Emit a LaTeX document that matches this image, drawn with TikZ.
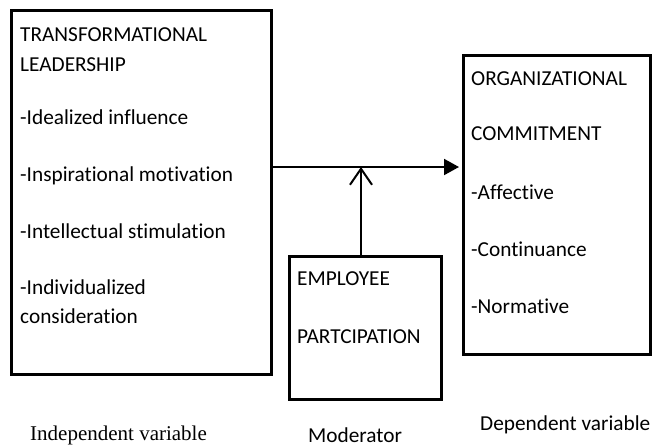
\documentclass[tikz,border=0pt]{standalone}
\usepackage{fontspec}
\setmainfont{Carlito}[Ligatures=NoCommon]
\newfontfamily\timesfont{Liberation Serif}
\usetikzlibrary{arrows.meta}
\begin{document}
\begin{tikzpicture}[x=1pt,y=-1pt,
  box/.style={draw=black,line width=2.6pt,rectangle,anchor=north west,inner sep=0pt},
  txt/.style={anchor=base west,inner sep=0pt,font=\fontsize{21.3}{25}\selectfont},
  lbl/.style={anchor=base west,inner sep=0pt,font=\fontsize{21.3}{25}\selectfont},
  conn/.style={line width=2pt}]
\useasboundingbox (0,0) rectangle (652,447);
\node[box,minimum width=260pt,minimum height=364pt] (iv) at (10,9) {};
\node[box,minimum width=152pt,minimum height=143pt] (mod) at (288,255) {};
\node[box,minimum width=187pt,minimum height=299pt] (dv) at (462,54) {};
% left texts
\node[txt] (t1) at (20,41) {TRANSFORMATIONAL};
\node[txt] (t2) at (20,71) {LEADERSHIP};
\node[txt] (t3) at (20,124) {-Idealized influence};
\node[txt] (t4) at (20,181) {-Inspirational motivation};
\node[txt] (t5) at (20,238) {-Intellectual stimulation};
\node[txt] (t6) at (20,294) {-Individualized};
\node[txt] (t7) at (20,323) {consideration};
% middle texts
\node[txt] (m1) at (297,285) {EMPLOYEE};
\node[txt] (m2) at (297,343) {PARTCIPATION};
% right texts
\node[txt] (r1) at (471,85) {ORGANIZATIONAL};
\node[txt] (r2) at (471,140) {COMMITMENT};
\node[txt] (r3) at (471,199) {-Affective};
\node[txt] (r4) at (471,256) {-Continuance};
\node[txt] (r5) at (471,313) {-Normative};
% bottom labels
\node[anchor=base west,inner sep=0pt,font=\timesfont\fontsize{21}{25}\selectfont] (l1) at (30,440) {Independent variable};
\node[lbl] (l2) at (308,442) {Moderator};
\node[lbl] (l3) at (480,430) {Dependent variable};
% connectors
\coordinate (j) at (361,167);
\draw[conn,shorten >=3pt,-{Triangle[length=15pt,width=16pt]}] (iv.east |- j) -- (dv.west |- j);
\draw[conn,-{Straight Barb[length=16pt,width=22pt,line width=2pt]}] (mod.north -| j) -- (j);
\end{tikzpicture}
\end{document}
